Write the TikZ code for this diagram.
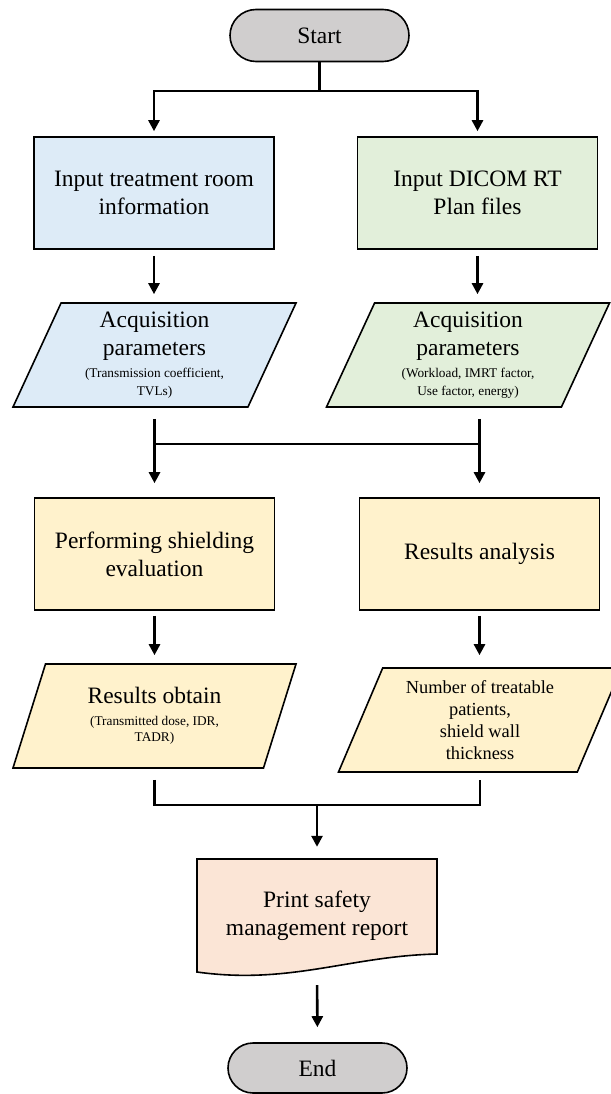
\documentclass[tikz,border=0pt]{standalone}
\usepackage{fontspec}
\setmainfont{Liberation Serif}
\usepackage{tikz}
\usetikzlibrary{arrows.meta,positioning}
\usetikzlibrary{shapes.geometric,shapes.misc}
\definecolor{termgray}{RGB}{208,206,206}
\definecolor{roomblue}{RGB}{221,235,247}
\definecolor{plangreen}{RGB}{226,239,218}
\definecolor{evalyellow}{RGB}{255,242,204}
\definecolor{reportpink}{RGB}{251,229,214}
\newcommand{\txtbig}{\fontsize{23.5}{28}\selectfont}
\newcommand{\txtmid}{\fontsize{18.4}{22}\selectfont}
\newcommand{\txtsmall}{\fontsize{13.3}{18}\selectfont}
\tikzset{
        base/.style={draw=black, line width=1.6pt, align=center, inner sep=2pt, font=\txtbig},
        term/.style={base, rounded rectangle, fill=termgray, minimum width=183pt, minimum height=52pt},
        procbox/.style={base, rectangle, minimum width=240pt, minimum height=112pt},
        iobox/.style={base, trapezium, trapezium left angle=62, trapezium right angle=118,
            trapezium stretches body, minimum width=283pt, minimum height=104pt},
        link/.style={line width=2.6pt},
        flow/.style={link, -{Triangle[length=11pt, width=11pt]}},
    }

\begin{document}
\begin{tikzpicture}[x = 1pt, y = -1pt]
                \useasboundingbox (0,0) rectangle (610,1094);
                \node[term] (start) at (319.5,35.5) {Start};
                \node[procbox, fill=roomblue] (room) at (154,193) {Input treatment room\\information};
                \node[procbox, fill=plangreen] (plan) at (477.5,193) {Input DICOM RT\\Plan files};
                \node[iobox, fill=roomblue] (acqroom) at (154.5,355)
                    {Acquisition\\parameters\\[-6pt]\txtsmall (Transmission coefficient,\\[-10pt]\txtsmall TVLs)};
                \node[iobox, fill=plangreen] (acqplan) at (468,355)
                    {Acquisition\\parameters\\[-6pt]\txtsmall (Workload, IMRT factor,\\[-10pt]\txtsmall Use factor, energy)};
                \node[procbox, fill=evalyellow] (eval) at (154.5,554) {Performing shielding\\evaluation};
                \node[procbox, fill=evalyellow] (anal) at (479.5,554) {Results analysis};
                \node[iobox, fill=evalyellow] (res) at (154.5,716)
                    {Results obtain\\[-6pt]\txtsmall (Transmitted dose, IDR,\\[-12pt]\txtsmall TADR)};
                \node[iobox, fill=evalyellow, font=\txtmid] (num) at (480,720)
                    {Number of treatable\\patients,\\shield wall\\thickness};
                % report sheet
                \draw[line width=1.6pt, fill=reportpink] (197,859) -- (437,859) -- (437,954)
                    .. controls (350,956) and (290,985) .. (197,972) -- cycle;
                \node[minimum width=240pt, minimum height=113pt, align=center, font=\txtbig]
                    (report) at (317,915.5) {Print safety\\management report};
                \node[term, minimum height=50pt] (end) at (317.5,1068) {End};
                % connectors
                \coordinate (split) at (0,91);
                \coordinate (join) at (0,444);
                \coordinate (merge) at (0,805);
                \draw[link] (start.south) -- (start.south |- split);
                \foreach \n in {room,plan}
                    \draw[flow, shorten >=5pt] (start.south |- split) -| (\n.north);
                \draw[flow, shorten <=6pt, shorten >=8pt] (room.south) -- (room.south |- acqroom.north);
                \draw[flow, shorten <=6pt, shorten >=8pt] (plan.south) -- (plan.south |- acqplan.north);
                \draw[flow, shorten <=11pt, shorten >=14pt] (acqroom.south) -- (acqroom.south |- eval.north);
                \draw[flow, shorten <=11pt, shorten >=14pt] (acqplan.south -| anal.north) -- (anal.north);
                \draw[link] (acqroom.south |- join) -- (anal.north |- join);
                \draw[flow, shorten <=5pt, shorten >=8pt] (eval.south) -- (eval.south |- res.north);
                \draw[flow, shorten <=5pt, shorten >=12pt] (anal.south) -- (anal.south |- num.north);
                \draw[link, shorten <=11pt, shorten >=7pt] (res.south) |- (num.south |- merge) -- (num.south);
                \draw[flow, shorten >=12pt] (report.north |- merge) -- (report.north);
                \draw[flow, shorten <=13pt, shorten >=15pt] (report.south) -- (end.north);
            \end{tikzpicture}
\end{document}
